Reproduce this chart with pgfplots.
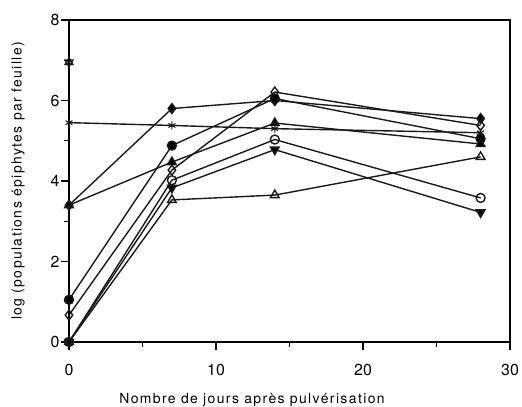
\documentclass[border=0pt]{standalone}
\usepackage{fontspec}
\setmainfont{TeX Gyre Heros}
\newfontfamily\spaced[LetterSpace=10]{TeX Gyre Heros}
\usepackage{pgfplots}
\pgfplotsset{compat=1.18}
\begin{document}
\begin{tikzpicture}
\begin{axis}[
  scale only axis, width=441bp, height=322bp,
  xmin=0, xmax=30, ymin=0, ymax=8,
  xtick={0,10,20,30}, minor xtick={5,15,25},
  ytick={0,2,4,6,8}, minor ytick={1,3,5,7},
  tick pos=left, tick align=outside,
  major tick length=8bp, minor tick length=5bp,
  tick style={line width=1.1pt, black},
  axis line style={draw=black, line width=1.5pt},
  /pgf/number format/assume math mode=true,
  ticklabel style={font=\fontsize{16}{16}\selectfont},
  xticklabel style={yshift=-11bp},
  yticklabel style={xshift=2bp},
  xlabel={Nombre de jours après pulvérisation},
  ylabel={log (populations épiphytes par feuille)},
  xlabel style={font=\spaced\fontsize{14}{14}\selectfont, at={(axis description cs:0.415,0)}, anchor=center, yshift=-58bp},
  ylabel style={font=\spaced\fontsize{14}{14}\selectfont, at={(axis description cs:0,0.5)}, anchor=center, yshift=51bp},
  clip=false,
  every axis plot/.append style={line width=1.4pt, black!90, mark size=4.5pt, mark options={solid, line width=1.1pt}},
]
\coordinate (bl) at (rel axis cs:0,0);
\coordinate (tr) at (rel axis cs:1,1);
% vertical line at x=0 with open star
\addplot[mark=none, line width=2.4pt] coordinates {(0,6.95) (0,0)};
\addplot[only marks, mark=triangle, mark options={fill=white}] coordinates {(0,6.95)};
\addplot[only marks, mark=triangle, mark options={rotate=180}] coordinates {(0,6.95)};
% filled diamond
\addplot[mark=diamond*, mark options={fill=black}, mark size=5pt] coordinates {(0,3.4) (7,5.8) (14,6.0) (28,5.55)};
% asterisk
\addplot[mark=asterisk, mark size=4pt] coordinates {(0,5.45) (7,5.38) (14,5.3) (28,5.2)};
% open diamond
\addplot[mark=diamond, mark options={fill=white}, mark size=5pt] coordinates {(0,0.67) (7,4.27) (14,6.21) (28,5.38)};
% filled circle
\addplot[mark=*, mark options={fill=black}] coordinates {(0,1.05) (7,4.88) (14,6.05) (28,5.05)};
% filled triangle up
\addplot[mark=triangle*, mark options={fill=black}, mark size=5pt] coordinates {(0,3.4) (7,4.47) (14,5.44) (28,4.92)};
% open circle
\addplot[mark=o, mark options={fill=white}] coordinates {(0,0) (7,4.02) (14,5.03) (28,3.58)};
% filled triangle down
\addplot[mark=triangle*, mark options={fill=black, rotate=180}, mark size=5pt] coordinates {(0,0) (7,3.83) (14,4.78) (28,3.22)};
% open triangle
\addplot[mark=triangle, mark options={fill=white}, mark size=5pt] coordinates {(0,0) (7,3.53) (14,3.65) (28,4.6)};
\draw[line width=1.5pt, black] (rel axis cs:0,0) rectangle (rel axis cs:1,1);
\end{axis}
\pgfresetboundingbox
\path[use as bounding box] ([xshift=-69bp,yshift=-65bp]bl) rectangle ([xshift=12bp,yshift=20bp]tr);
\end{tikzpicture}
\end{document}
